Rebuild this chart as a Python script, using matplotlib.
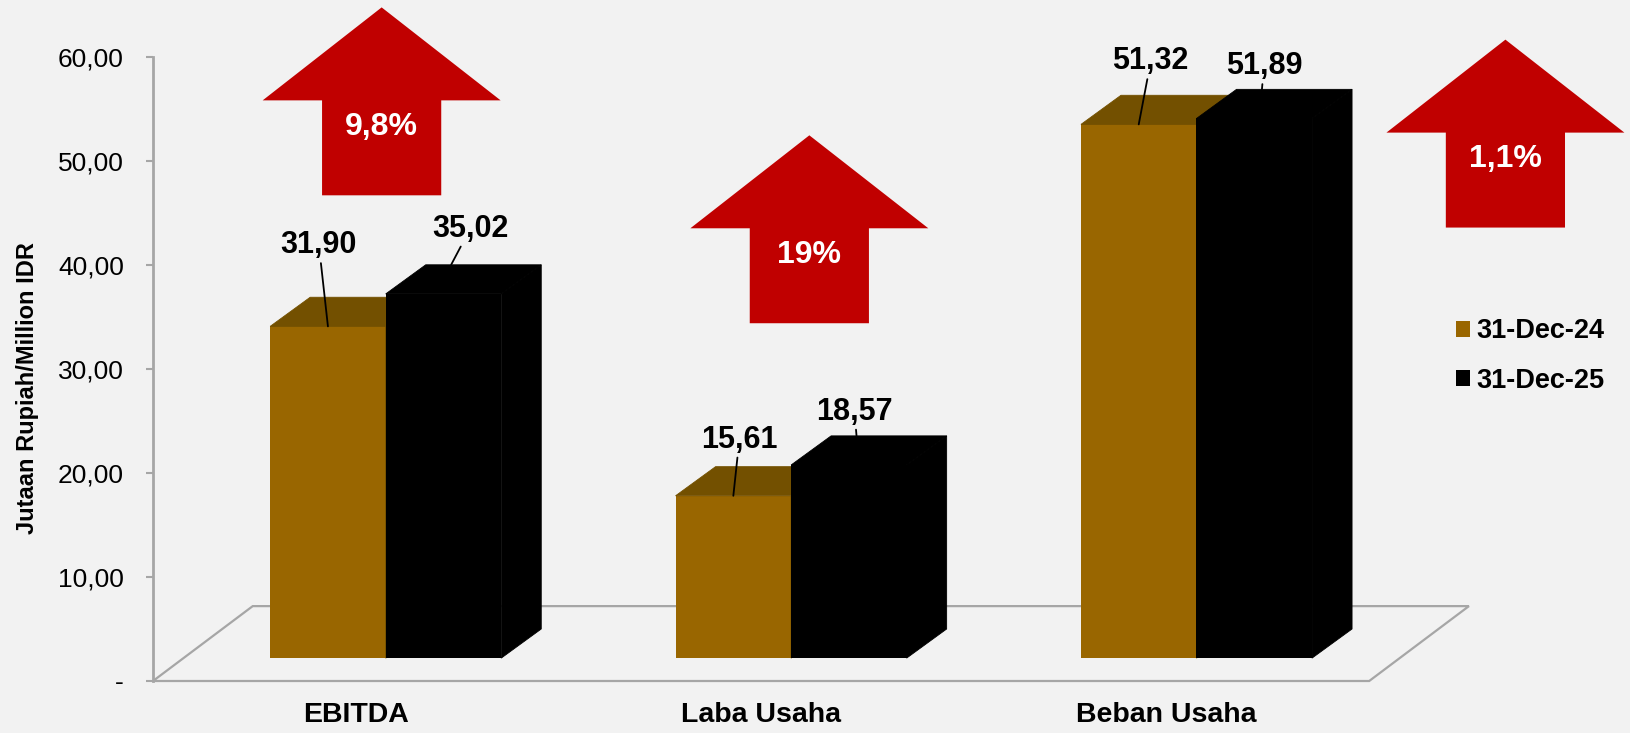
import matplotlib.pyplot as plt
from matplotlib.patches import Polygon, Patch
from matplotlib.ticker import FuncFormatter

plt.rcParams['font.family'] = ['Liberation Sans', 'DejaVu Sans']

# data
categories = ['EBITDA', 'Laba Usaha', 'Beban Usaha']
series_names = ['31-Dec-24', '31-Dec-25']
dec24 = [31.90, 15.61, 51.32]
dec25 = [35.02, 18.57, 51.89]
growth_labels = ['9,8%', '19%', '1,1%']

# layout (pixel offsets for the moved data labels, arrow placement)
off24 = [(-9, 81), (6, 56), (12, 63)]
off25 = [(19, 36), (-2, 24), (2, 23)]
arrow_x = [0.564, 1.619, 3.336]
arrow_bottom = [46.7, 34.4, 43.6]

c24, c24_top = '#996600', '#735000'
c25 = '#000000'
red = '#c00000'
grey = '#a6a6a6'

W, H = 1630, 733
fig = plt.figure(figsize=(W / 100, H / 100), dpi=100, facecolor='#f2f2f2')
ax = fig.add_axes([153 / W, 0, 1 - 153 / W, 1])
ax.set_facecolor('none')
ax.set_xlim(0, (W - 153) / 405.4)
ax.set_ylim((681 - H) / 10.4, 681 / 10.4)

for s in ['top', 'right', 'bottom']:
    ax.spines[s].set_visible(False)
ax.spines['left'].set_bounds(0, 60)
ax.spines['left'].set_color(grey)
ax.spines['left'].set_linewidth(2)
ax.set_xticks([])
ax.set_yticks(range(0, 61, 10))
ax.yaxis.set_major_formatter(FuncFormatter(lambda v, p: '-' if v == 0 else f'{v:.2f}'.replace('.', ',')))
ax.tick_params(axis='y', length=5, width=1.5, color=grey, pad=16, labelsize=19)

# floor of the 3d box
n = len(categories)
depth_x, depth_y = 0.246, 7.2
ax.add_patch(Polygon([(0, 0), (n, 0), (n + depth_x, depth_y), (depth_x, depth_y)],
                     closed=True, fill=False, edgecolor=grey, lw=1.6, zorder=1))

# bars with fake depth
z0 = 2.2
front_dx = 0.074
bw = 0.285
ddx, ddy = 0.0987, 2.8


def bar3d(xl, v, front, top, side):
    # front first, then side and top so their edges cover the seams
    ax.add_patch(Polygon([(xl, z0), (xl + bw, z0), (xl + bw, z0 + v), (xl, z0 + v)],
                         fc=front, ec='none', zorder=2))
    ax.add_patch(Polygon([(xl + bw, z0), (xl + bw + ddx, z0 + ddy), (xl + bw + ddx, z0 + v + ddy), (xl + bw, z0 + v)],
                         fc=side, ec=side, lw=0.6, zorder=2))
    ax.add_patch(Polygon([(xl, z0 + v), (xl + bw, z0 + v), (xl + bw + ddx, z0 + v + ddy), (xl + ddx, z0 + v + ddy)],
                         fc=top, ec=top, lw=0.6, zorder=2))


lbl = dict(ha='center', va='center', fontsize=22, fontweight='bold', textcoords='offset pixels',
           arrowprops=dict(arrowstyle='-', color='black', lw=1.3, shrinkA=0, shrinkB=0), zorder=5)

for i in range(n):
    mid = i + 0.5 + front_dx
    bar3d(mid - bw, dec24[i], c24, c24_top, c24_top)
    bar3d(mid, dec25[i], c25, c25, c25)
    ax.annotate(f'{dec24[i]:.2f}'.replace('.', ','), xy=(mid - bw / 2, z0 + dec24[i]),
                xytext=off24[i], **lbl)
    ax.annotate(f'{dec25[i]:.2f}'.replace('.', ','), xy=(mid + ddx + 0.22 * bw, z0 + dec25[i] + ddy),
                xytext=off25[i], **lbl)
    ax.text(i + 0.5, -3.27, categories[i], ha='center', va='center', fontsize=20.5, fontweight='bold')

# red growth arrows
head_w, shaft_w = 0.2935, 0.147
shaft_h, head_h = 9.13, 8.94
for cx, b, t in zip(arrow_x, arrow_bottom, growth_labels):
    pts = [(cx - shaft_w, b), (cx + shaft_w, b), (cx + shaft_w, b + shaft_h), (cx + head_w, b + shaft_h),
           (cx, b + shaft_h + head_h), (cx - head_w, b + shaft_h), (cx - shaft_w, b + shaft_h)]
    ax.add_patch(Polygon(pts, closed=True, fc=red, ec='none', zorder=3, clip_on=False))
    ax.text(cx, b + 6.6, t, ha='center', va='center', color='white', fontsize=23,
            fontweight='bold', zorder=4)

fig.text(28 / W, 1 - 388 / H, 'Jutaan Rupiah/Million IDR', rotation=90, ha='center', va='center',
         fontsize=17, fontweight='bold')

handles = [Patch(facecolor=c24, edgecolor='none', label=series_names[0]),
           Patch(facecolor=c25, edgecolor='none', label=series_names[1])]
fig.legend(handles=handles, loc='center left', bbox_to_anchor=(1456 / W, 1 - 356 / H), frameon=False,
           prop={'size': 19.5, 'weight': 'bold'}, handlelength=0.5, handleheight=0.5,
           handletextpad=0.25, labelspacing=0.85, borderpad=0, borderaxespad=0)

fig.savefig('out.png', dpi=100, facecolor=fig.get_facecolor())
